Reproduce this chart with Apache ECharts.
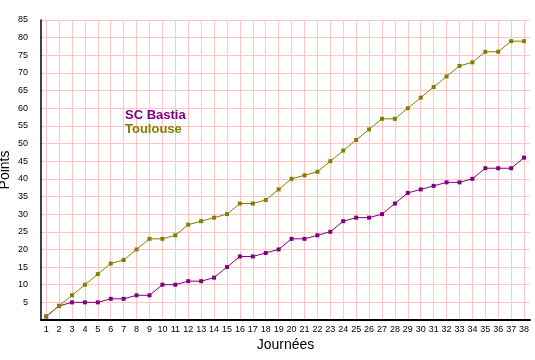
<!DOCTYPE html>
<html>
<head>
<meta charset="utf-8">
<script src="https://cdn.jsdelivr.net/npm/echarts@6/dist/echarts.min.js"></script>
<style>
  html, body { margin: 0; padding: 0; background: #fff; }
  #container { width: 535px; height: 360px; }
</style>
</head>
<body>
<div id="container"></div>
<script>
var days = [];
for (var d = 1; d <= 38; d++) days.push(d);

var bastia = [1, 4, 5, 5, 5, 6, 6, 7, 7, 10, 10, 11, 11, 12, 15, 18, 18, 19, 20, 23,
    23, 24, 25, 28, 29, 29, 30, 33, 36, 37, 38, 39, 39, 40, 43, 43, 43, 46];
var toulouse = [1, 4, 7, 10, 13, 16, 17, 20, 23, 23, 24, 27, 28, 29, 30, 33, 33, 34, 37, 40,
    41, 42, 45, 48, 51, 54, 57, 57, 60, 63, 66, 69, 72, 73, 76, 76, 79, 79];

function pairs(vals) {
    return vals.map(function (v, i) { return [days[i], v]; });
}

var myChart = echarts.init(document.getElementById("container"));
myChart.setOption({
    animation: false,
    grid: { left: 41, right: 5, top: 20, bottom: 40, outerBoundsMode: 'none' },
    legend: {
        orient: 'vertical',
        left: 120,
        top: 108,
        icon: 'none',
        itemWidth: 0,
        itemGap: 1,
        padding: 0,
        selectedMode: false,
        textStyle: { fontFamily: 'Liberation Sans', fontSize: 13, fontWeight: 'bold' },
        data: [
            { name: 'SC Bastia', textStyle: { color: '#800080' } },
            { name: 'Toulouse', textStyle: { color: '#808000' } }
        ]
    },
    xAxis: {
        type: 'value',
        min: 0.6,
        max: 38.46,
        name: 'Journées',
        nameLocation: 'middle',
        nameGap: 18,
        nameMoveOverlap: false,
        nameTextStyle: { fontFamily: 'Liberation Sans', fontSize: 14, color: '#000' },
        axisLine: { lineStyle: { color: '#000', width: 2 } },
        axisTick: { show: false, customValues: days },
        axisLabel: {
            customValues: days,
            margin: 5,
            fontFamily: 'Liberation Sans',
            fontSize: 9,
            color: '#000'
        },
        splitLine: { show: true, lineStyle: { color: '#ffc4c4', width: 1 } }
    },
    yAxis: {
        type: 'value',
        min: 0,
        max: 85,
        interval: 5,
        name: 'Points',
        nameLocation: 'middle',
        nameGap: 29,
        nameMoveOverlap: false,
        nameTextStyle: { fontFamily: 'Liberation Sans', fontSize: 14, color: '#000' },
        axisLine: { show: true, lineStyle: { color: '#000', width: 1.5 } },
        axisTick: { show: false },
        axisLabel: {
            showMinLabel: false,
            margin: 13,
            fontFamily: 'Liberation Sans',
            fontSize: 9,
            color: '#000'
        },
        splitLine: { show: true, lineStyle: { color: '#ffc4c4', width: 1 } }
    },
    series: [{
        name: 'SC Bastia',
        type: 'line',
        data: pairs(bastia),
        symbol: 'rect',
        symbolSize: 4,
        color: '#800080',
        lineStyle: { width: 1 },
        z: 2
    }, {
        name: 'Toulouse',
        type: 'line',
        data: pairs(toulouse),
        symbol: 'rect',
        symbolSize: 4,
        color: '#808000',
        lineStyle: { width: 1 },
        z: 3
    }]
});
</script>
</body>
</html>
